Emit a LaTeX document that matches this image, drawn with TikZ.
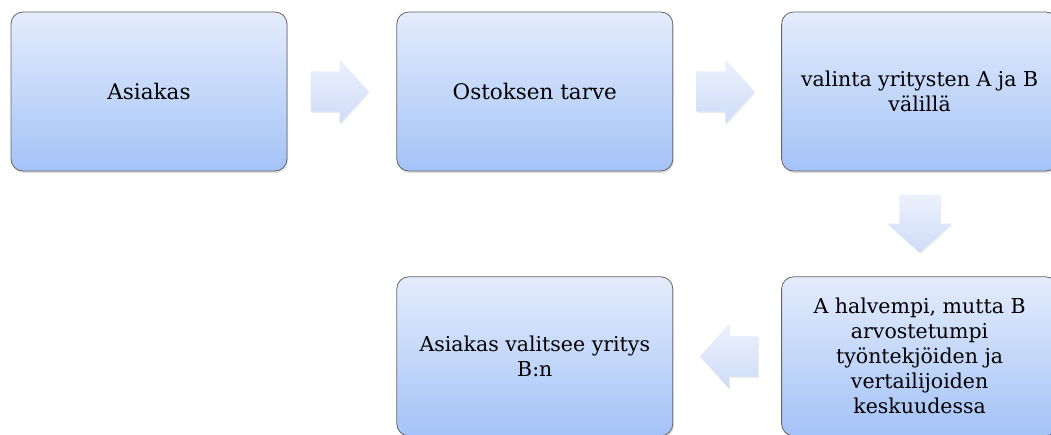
\documentclass[tikz,border=0pt]{standalone}
\usepackage{fontspec}
\setmainfont{DejaVu Serif}
\usetikzlibrary{calc}
\usetikzlibrary{positioning}
\usetikzlibrary{shapes.arrows}
\usetikzlibrary{shadows}
\definecolor{stagetop}{RGB}{228,236,252}
\definecolor{stagebottom}{RGB}{164,195,247}
\definecolor{stageline}{RGB}{100,100,105}
\definecolor{arrowtop}{RGB}{236,241,252}
\definecolor{arrowbottom}{RGB}{206,220,248}

\begin{document}
\begin{tikzpicture}
    [%
        x=1pt,y=-1pt,%
        stage box/.style={%
            draw=stageline,%
            line width=0.8pt,%
            rounded corners=12pt,%
            top color=stagetop,%
            bottom color=stagebottom,%
            minimum width=276pt,%
            minimum height=159pt,%
            inner sep=4pt,%
            align=center,%
            drop shadow={opacity=0.25,shadow xshift=1pt,shadow yshift=-2pt}%
        },%
        big text/.style={font=\fontsize{21.5}{26}\selectfont},%
        small text/.style={font=\fontsize{20.5}{25}\selectfont},%
        flow arrow/.style={%
            single arrow,%
            single arrow head extend=12pt,%
            single arrow tip angle=96,%
            minimum height=58pt,%
            anchor=tail,%
            top color=arrowtop,%
            bottom color=arrowbottom,%
            drop shadow={opacity=0.15,shadow xshift=1pt,shadow yshift=-1.5pt}%
        },%
        across/.style={inner xsep=0pt,inner ysep=20pt},%
        downward/.style={inner xsep=20pt,inner ysep=0pt}%
    ]%
%
    \path[use as bounding box] (0,0) rectangle (1051,434);
    \clip (0,0) rectangle (1051,434);
%
    % the stages, from the customer to the choice
    \node[stage box,big text] (asiakas) at (149,91.5) {Asiakas};
    \node[stage box,big text,right=109pt of asiakas] (tarve) {Ostoksen tarve};
    \node[stage box,small text,right=108pt of tarve] (valinta)
        {valinta yritysten A ja B\\välillä};
    \node[stage box,small text,below=105pt of valinta] (vertailu)
        {A halvempi, mutta B\\arvostetumpi\\työntekjöiden ja\\vertailijoiden\\keskuudessa};
    \node[stage box,small text,left=108pt of vertailu] (valitsee)
        {Asiakas valitsee yritys\\B:n};
%
    % block arrows between the stages
    % \from/\out stage and port the arrow leaves
    % \to/\in stage and port the arrow points at
    % \turn rotation of the arrow, \way its shaft
    \foreach \from/\out/\to/\in/\turn/\way in {%
        asiakas/east/tarve/west/0/across,%
        tarve/east/valinta/west/0/across,%
        valinta/south/vertailu/north/270/downward,%
        vertailu/west/valitsee/east/180/across%
    }{
        \node[flow arrow,\way,shape border rotate=\turn] (\from-\to)
            at ($(\from.\out)!23pt!(\to.\in)$) {};
    } % \foreach \from/\out/\to/\in/\turn/\way
\end{tikzpicture}
\end{document}
